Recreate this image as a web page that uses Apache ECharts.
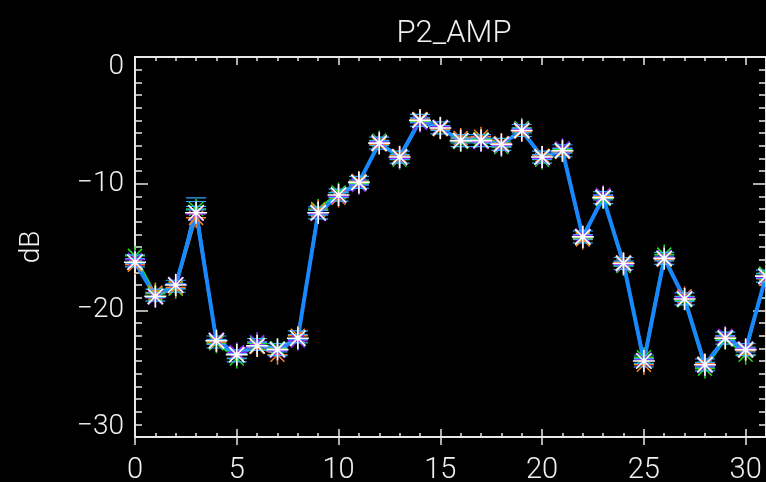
<!DOCTYPE html>
<html>
<head>
<meta charset="utf-8">
<style>
html,body{margin:0;padding:0;background:#000;}
#c{width:766px;height:482px;}
</style>
<script src="https://cdn.jsdelivr.net/npm/echarts@6/dist/echarts.min.js"></script>
</head>
<body>
<div id="c"></div>
<script>
// ---- data ----
var xs = [0,1,2,3,4,5,6,7,8,9,10,11,12,13,14,15,16,17,18,19,20,21,22,23,24,25,26,27,28,29,30,31];
var ampBlue   = [-16.2,-18.9,-18.0,-12.3,-22.4,-23.5,-22.8,-23.1,-22.2,-12.3,-10.9,-9.9,-6.8,-7.9,-5.0,-5.6,-6.6,-6.6,-6.9,-5.8,-7.9,-7.4,-14.2,-11.1,-16.3,-24.0,-15.9,-19.1,-24.3,-22.2,-23.1,-17.3];
var ampGreen  = [-15.7,-18.7,-18.3,-12.0,-22.6,-23.8,-22.6,-23.0,-22.3,-12.0,-10.7,-10.0,-6.6,-8.1,-5.1,-5.5,-6.7,-6.5,-7.1,-5.6,-8.1,-7.3,-14.3,-11.2,-16.5,-23.7,-15.6,-19.2,-24.6,-22.3,-23.5,-17.1];
var ampOrange = [-16.4,-18.6,-18.2,-12.7,-22.5,-23.4,-22.9,-23.5,-22.0,-12.1,-11.1,-9.8,-6.9,-7.8,-4.9,-5.7,-6.4,-6.3,-6.8,-5.9,-7.8,-7.5,-14.4,-11.0,-16.2,-24.3,-16.0,-18.9,-24.2,-22.1,-23.2,-17.5];
var ampPurple = [-16.0,-19.0,-17.9,-12.4,-22.3,-23.3,-22.5,-23.2,-22.4,-12.4,-11.0,-10.1,-6.7,-8.0,-5.2,-5.5,-6.6,-6.7,-7.0,-5.7,-8.0,-7.2,-14.1,-10.9,-16.4,-23.9,-15.8,-19.0,-24.4,-22.0,-23.0,-17.4];
var ampCyan   = [-16.1,-18.8,-18.1,-11.6,-22.5,-23.6,-22.7,-23.1,-22.1,-12.3,-10.9,-9.9,-6.8,-7.9,-5.0,-5.6,-6.6,-6.6,-6.9,-5.8,-7.9,-7.4,-14.2,-11.1,-16.3,-24.0,-15.9,-19.1,-24.3,-22.2,-23.1,-17.3];
var xMajorTicks = [0,5,10,15,20,25,30];
var xTickLabels = ['0','5','10','15','20','25','30'];
var xMinorTicks = [0,1,2,3,4,5,6,7,8,9,10,11,12,13,14,15,16,17,18,19,20,21,22,23,24,25,26,27,28,29,30,31];
var yTickValues = [-30,-20,-10,0];
var yTickLabels = ['\u221230','\u221220','\u221210','0'];

// ---- chart ----
var FONT = 'Roboto, "Liberation Sans", sans-serif';
var AX = '#e8e8e8';
var STAR = 'path://M10,0L10,20M0,10L20,10M3,3L17,17M3,17L17,3';
var STRIPES = 'path://M0,0L20,0M0,3L20,3M0,7L20,7M0,10L20,10';
var GRID_W = 631, GRID_H = 380;

function pairs(v){ return xs.map(function(x,i){ return [x, v[i]]; }); }

function xAx(pos, offset, major, labels, lineShow){
  return {
    type:'value', min:0, max:31, position:pos, offset:offset,
    axisLine:{show:lineShow, onZero:false, lineStyle:{color:AX, width:2}},
    axisTick:{show:true, inside:false, length: major?8:4,
      customValues: major?xMajorTicks:xMinorTicks,
      lineStyle:{color:AX, width:1.5}},
    axisLabel:{show:labels, customValues:xMajorTicks, margin:19,
      color:'#f0f0f0', fontSize:29, fontFamily:FONT, fontWeight:300,
      formatter:function(v){ var k=xMajorTicks.indexOf(v); return k>=0?xTickLabels[k]:''; }},
    splitLine:{show:false}
  };
}
function yAx(pos, offset, labels, lineShow){
  return {
    type:'value', min:-30, max:0, interval:10, position:pos, offset:offset,
    name: labels?'dB':'', nameLocation:'middle', nameRotate:90, nameGap:89,
    nameTextStyle:{color:'#f0f0f0', fontSize:28, fontFamily:FONT, fontWeight:300},
    axisLine:{show:lineShow, onZero:false, lineStyle:{color:AX, width:2}},
    axisTick:{show:!labels, inside:false, length:13, lineStyle:{color:AX, width:1.5}},
    minorTick:{show:!labels, splitNumber:10, length:7, lineStyle:{color:AX, width:1.5}},
    axisLabel:{show:labels, margin:11, color:'#f0f0f0', fontSize:28, lineHeight:20,
      fontFamily:FONT, fontWeight:300,
      verticalAlignMinLabel:'bottom', verticalAlignMaxLabel:'top',
      formatter:function(v){ var k=yTickValues.indexOf(v); return k>=0?yTickLabels[k]:''; }},
    splitLine:{show:false}
  };
}
function sub(name, data, color, symbol, size){
  return {
    name:name, type:'line', xAxisIndex:0, yAxisIndex:0, data:pairs(data),
    symbol:symbol, symbolSize:size, showSymbol:true,
    lineStyle:{color:color, width:2},
    itemStyle:{color:color, borderColor:color, borderWidth:1.5},
    emphasis:{disabled:true}
  };
}

var xAxes = [
  xAx('bottom', 0, true, true, true),
  xAx('top', -GRID_H, true, false, false),
  xAx('top', -GRID_H, false, false, false),
  xAx('bottom', -GRID_H, true, false, true),
  xAx('bottom', -GRID_H, false, false, false)
];
var yAxes = [
  yAx('left', 0, true, true),
  yAx('right', -GRID_W, false, false),
  yAx('left', -GRID_W, false, true)
];

var chart = echarts.init(document.getElementById('c'), null, {renderer:'canvas'});
chart.setOption({
  backgroundColor:'#000',
  animation:false,
  title:{text:'P2_AMP', left:449, top:14, textAlign:'center',
    textStyle:{color:'#f0f0f0', fontSize:31, fontFamily:FONT, fontWeight:300}},
  grid:{left:135, top:57, width:GRID_W, height:GRID_H, containLabel:false, outerBoundsMode:'none'},
  xAxis:xAxes,
  yAxis:yAxes,
  series:[
    sub('green', ampGreen, '#20e020', STAR, 20),
    sub('orange', ampOrange, '#ff8020', STAR, 20),
    sub('purple', ampPurple, '#9020ff', STAR, 20),
    sub('cyan', ampCyan, '#30a8ff', STRIPES, [20,12]),
    {
      name:'blue', type:'line', xAxisIndex:0, yAxisIndex:0, data:pairs(ampBlue),
      symbol:STAR, symbolSize:22, showSymbol:true,
      lineStyle:{color:'#1888ff', width:4},
      itemStyle:{color:'#ffffff', borderColor:'#ffffff', borderWidth:1.6},
      emphasis:{disabled:true}
    }
  ]
});
</script>
</body>
</html>
